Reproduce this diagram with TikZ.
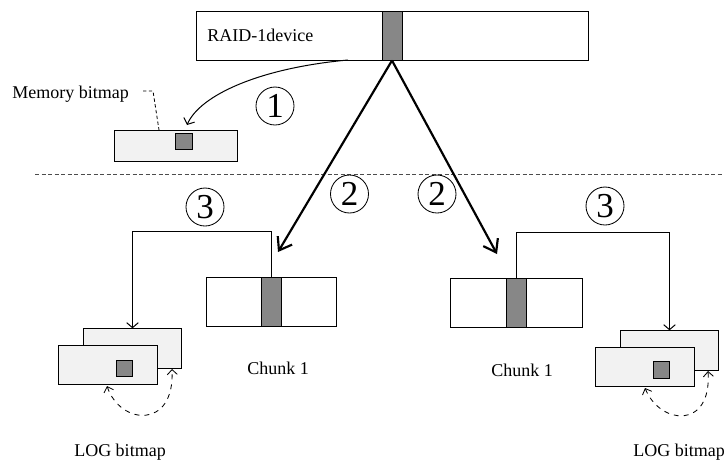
\documentclass[tikz,border=0pt]{standalone}
\usepackage{fontspec}
\setmainfont{Liberation Serif}
\usetikzlibrary{arrows.meta}
\definecolor{barfill}{HTML}{878787}
\definecolor{mapfill}{HTML}{F2F2F2}

\begin{document}
\begin{tikzpicture}[x=0.6pt, y=-0.6pt, font=\fontsize{10.8}{13}\selectfont,
    devbox/.style={draw, rectangle, inner sep=0pt, line width=0.6pt},
    stripe/.style={devbox, fill=barfill, minimum width=12pt, minimum height=29.4pt},
    mapbox/.style={devbox, fill=mapfill, minimum width=59pt, minimum height=23.6pt},
    cell/.style={devbox, fill=barfill, minimum size=10pt},
    stepnum/.style={draw, circle, inner sep=0pt, minimum size=22.8pt, line width=0.5pt, font=\fontsize{21}{21}\selectfont},
    feed/.style={line width=0.6pt, -{Straight Barb[length=3pt,width=7pt]}},
    push/.style={line width=1.3pt, -{Straight Barb[length=7pt,width=10pt]}},
    swap/.style={dashed, line width=0.5pt, {Straight Barb[length=3pt,width=6pt]}-{Straight Barb[length=3pt,width=6pt]}}]
    \useasboundingbox (0,0) rectangle (724,462);

    % RAID-1 device and memory bitmap
    \node (raid) [devbox, minimum width=235.2pt, minimum height=29.4pt] at (392,35.5) {};
    \node (raidbar) [stripe] at (392,35.5) {};
    \node (raidlbl) [anchor=west, inner sep=0pt] at (207,35) {RAID-1device};
    \node (mem) [devbox, fill=mapfill, minimum width=73.8pt, minimum height=18.6pt] at (175.5,145.5) {};
    \node (memcell) [cell] at (184,141.5) {};
    \node (memlbl) [inner sep=0pt] at (70.5,94) {Memory bitmap};
    \coordinate (memtail) at (143,91);
    \coordinate (memknee) at (153,91);
    \coordinate (memtag) at (159,130);
    \draw [dashed, dash pattern=on 2pt off 1.5pt, line width=0.5pt] (memtail) -- (memknee) -- (memtag);

    % split line
    \coordinate (sepL) at (35,174);
    \coordinate (sepR) at (724,174);
    \draw [dash pattern=on 2.4pt off 1.5pt, line width=0.5pt, black!70] (sepL) -- (sepR);

    % chunks
    \node (lchunk) [devbox, minimum width=78pt, minimum height=29.4pt] at (271,301.5) {};
    \node (lbar) [stripe] at (271.5,301.5) {};
    \node (rchunk) [devbox, minimum width=79.2pt, minimum height=29.4pt] at (516,302.5) {};
    \node (rbar) [stripe] at (516,302.5) {};
    \node (lchunklbl) at (278,368) {Chunk 1};
    \node (rchunklbl) at (522,370) {Chunk 1};

    % LOG bitmaps
    \node (lback) [mapbox] at (132.5,348.5) {};
    \node (lfront) [mapbox] at (108,365) {};
    \node (lcell) [cell] at (124.5,368.5) {};
    \node (rback) [mapbox] at (669.5,350.5) {};
    \node (rfront) [mapbox] at (645,367) {};
    \node (rcell) [cell] at (661.5,370) {};
    \node (llog) at (120,452) {LOG bitmap};
    \node (rlog) at (679,452) {LOG bitmap};

    % step numbers
    \node (s1) [stepnum] at (275,106) {1};
    \node (s2l) [stepnum] at (349.5,194) {2};
    \node (s2r) [stepnum] at (437,194) {2};
    \node (s3l) [stepnum] at (205,207) {3};
    \node (s3r) [stepnum] at (605,206) {3};

    % step 1
    \coordinate (c1start) at (348,60);
    \coordinate (c1end) at (187,125);
    \draw [feed] (c1start) .. controls (260,68) and (200,95) .. (c1end);

    % step 2
    \coordinate (ltip) at (278,252);
    \coordinate (rtip) at (497,254);
    \draw [push] (raidbar.south) -- (ltip);
    \draw [push] (raidbar.south) -- (rtip);

    % step 3
    \draw [feed] (lbar.north) -- ++(0,-45) -| (lback.north);
    \draw [feed] (rbar.north) -- ++(0,-45) -| (rback.north);

    % swap of the log bitmaps
    \coordinate (lswapA) at (107,386);
    \coordinate (lswapB) at (172,369);
    \coordinate (rswapA) at (645,388);
    \coordinate (rswapB) at (708,371);
    \draw [swap] (lswapA) .. controls (120,425) and (175,430) .. (lswapB);
    \draw [swap] (rswapA) .. controls (660,425) and (712,430) .. (rswapB);
\end{tikzpicture}
\end{document}
